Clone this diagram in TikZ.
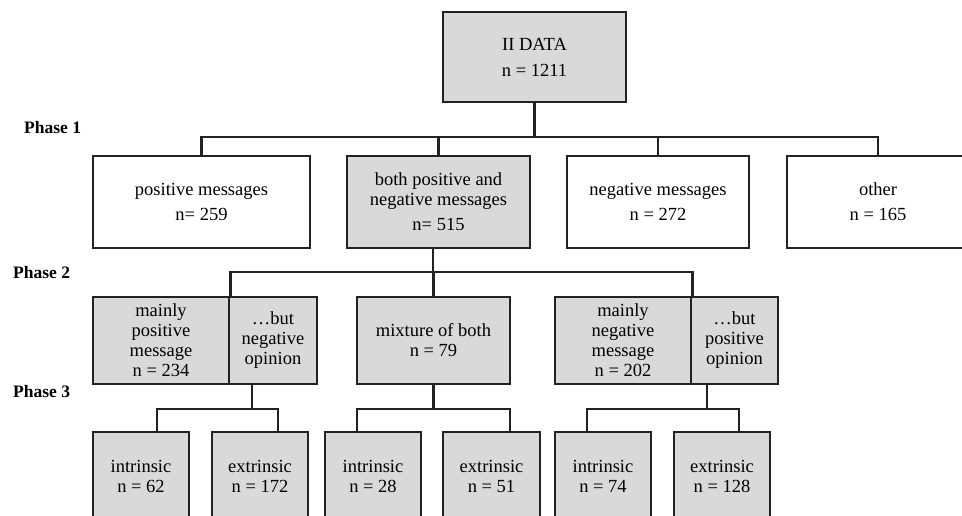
\documentclass[tikz,border=0pt]{standalone}
\usepackage{fontspec}
\setmainfont{Liberation Serif}
\usetikzlibrary{calc}
\definecolor{boxgray}{HTML}{D9D9D9}
\definecolor{linec}{HTML}{222222}
\tikzset{
  bx/.style={draw=linec, line width=2.9pt, rectangle, inner sep=0pt, align=center,
    font=\fontsize{18.5}{20}\selectfont},
  gbx/.style={bx, fill=boxgray},
  wbx/.style={bx, fill=white},
  conn/.style={draw=linec, line width=2.9pt},
  phase/.style={anchor=west, inner sep=0pt, font=\fontsize{17.5}{20}\selectfont\bfseries}
}
\begin{document}
\begin{tikzpicture}[x=1pt,y=-1pt]
\useasboundingbox (0,0) rectangle (962,515);
\clip (0,0) rectangle (962,515);
\fill[white] (0,0) rectangle (962,515);
% phase labels
\node[phase] (ph1) at (24,128) {Phase 1};
\node[phase] (ph2) at (13,273) {Phase 2};
\node[phase] (ph3) at (13,392) {Phase 3};
% top
\node[gbx, minimum width=183, minimum height=90] (top) at (534.5,57) {II DATA\\[6pt] n = 1211};
% phase 1
\node[wbx, minimum width=217, minimum height=92] (pos) at (201.5,202) {positive messages\\[5pt] n= 259};
\node[gbx, minimum width=183, minimum height=92] (both) at (438.5,202) {both positive and\\ negative messages\\[5pt] n= 515};
\node[wbx, minimum width=182, minimum height=92] (neg) at (658,202) {negative messages\\[5pt] n = 272};
\node[wbx, minimum width=182, minimum height=92] (oth) at (878,202) {other\\[5pt] n = 165};
% phase 2
\node[gbx, minimum width=136, minimum height=87] (lpl) at (161,340.5) {mainly\\ positive\\ message\\ n = 234};
\node[gbx, minimum width=88, minimum height=87] (lpr) at (273,340.5) {\dots but\\ negative\\ opinion};
\node[gbx, minimum width=153, minimum height=87] (mix) at (433.5,340.5) {mixture of both\\ n = 79};
\node[gbx, minimum width=136, minimum height=87] (rpl) at (623,340.5) {mainly\\ negative\\ message\\ n = 202};
\node[gbx, minimum width=87, minimum height=87] (rpr) at (734.5,340.5) {\dots but\\ positive\\ opinion};
% phase 3
\node[gbx, minimum width=96, minimum height=89] (c1) at (141,476.5) {intrinsic\\ n = 62};
\node[gbx, minimum width=96, minimum height=89] (c2) at (260,476.5) {extrinsic\\ n = 172};
\node[gbx, minimum width=96, minimum height=89] (c3) at (373,476.5) {intrinsic\\ n = 28};
\node[gbx, minimum width=97, minimum height=89] (c4) at (491.5,476.5) {extrinsic\\ n = 51};
\node[gbx, minimum width=96, minimum height=89] (c5) at (603,476.5) {intrinsic\\ n = 74};
\node[gbx, minimum width=96, minimum height=89] (c6) at (722,476.5) {extrinsic\\ n = 128};
% connectors phase 1
\coordinate (j1) at (534.5,137);
\draw[conn] (top.south) -- (j1);
\draw[conn] (j1) -| (pos.north);
\draw[conn] (j1) -| (both.north);
\draw[conn] (j1) -| (neg.north);
\draw[conn] (j1) -| (oth.north);
% phase 2
\coordinate (j2) at (433,272);
\draw[conn] ([xshift=-5.5]both.south) -- (j2);
\draw[conn] (j2) -| (lpl.north east);
\draw[conn] (j2) -| (mix.north);
\draw[conn] (j2) -| (rpl.north east);
% phase 3
\coordinate (j3) at (252,409);
\draw[conn] ([xshift=-21]lpr.south) -- (j3);
\draw[conn] (j3) -| ([xshift=16]c1.north);
\draw[conn] (j3) -| ([xshift=18]c2.north);
\coordinate (j4) at (433.5,409);
\draw[conn] (mix.south) -- (j4);
\draw[conn] (j4) -| ([xshift=-16]c3.north);
\draw[conn] (j4) -| ([xshift=18.5]c4.north);
\coordinate (j5) at (707,409);
\draw[conn] ([xshift=-27.5]rpr.south) -- (j5);
\draw[conn] (j5) -| ([xshift=-16]c5.north);
\draw[conn] (j5) -| ([xshift=17]c6.north);
\end{tikzpicture}
\end{document}
